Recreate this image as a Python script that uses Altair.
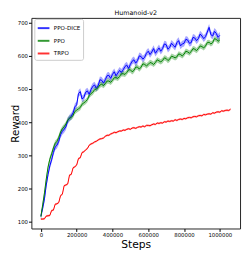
import altair as alt
import pandas as pd

series_names = ["PPO-DICE", "PPO", "TRPO"]
series_colors = ["#0000ff", "#008000", "#ff0000"]

ppo_dice = [116, 140, 168, 210, 242, 268, 286, 308, 325, 330, 342, 362, 372, 378, 386,
            404, 412, 418, 428, 446, 452, 486, 492, 470, 474, 490, 494, 484, 498, 508,
            512, 502, 510, 528, 526, 518, 528, 540, 541, 532, 544, 552, 540, 548, 556,
            550, 558, 568, 572, 562, 574, 584, 588, 578, 586, 600, 598, 590, 596, 608,
            614, 604, 612, 622, 608, 616, 624, 614, 622, 636, 634, 620, 626, 638, 632,
            626, 640, 646, 630, 636, 638, 650, 648, 638, 640, 656, 654, 646, 652, 666,
            660, 652, 658, 672, 686, 664, 660, 674, 668, 656, 662]
ppo = [114, 150, 186, 228, 264, 288, 304, 322, 336, 342, 354, 370, 380, 386, 394,
       406, 412, 414, 420, 432, 436, 440, 444, 454, 458, 462, 468, 480, 486, 490,
       498, 500, 504, 512, 514, 510, 516, 524, 524, 520, 526, 534, 534, 532, 538,
       546, 546, 544, 550, 558, 558, 552, 556, 566, 566, 560, 566, 576, 574, 570,
       574, 580, 578, 574, 580, 588, 585, 582, 586, 594, 592, 586, 590, 599, 597,
       594, 597, 606, 604, 600, 605, 614, 612, 608, 613, 622, 620, 616, 622, 630,
       628, 624, 630, 640, 641, 636, 640, 652, 650, 644, 648]
trpo = [107, 107, 108, 116, 117, 118, 133, 134, 152, 153, 157, 178, 182, 208, 210,
        213, 240, 242, 262, 265, 270, 290, 292, 308, 310, 316, 320, 330, 334, 336,
        340, 342, 346, 349, 350, 352, 357, 360, 360, 364, 366, 369, 368, 371, 373,
        373, 376, 375, 378, 380, 378, 382, 383, 381, 384, 386, 385, 388, 386, 390,
        390, 389, 392, 394, 393, 397, 396, 398, 397, 401, 400, 403, 402, 404, 403,
        407, 405, 408, 409, 408, 411, 410, 413, 414, 413, 416, 417, 416, 419, 420,
        419, 423, 422, 424, 425, 424, 428, 427, 430, 431, 430, 434, 433, 435, 436,
        435, 439]
spreads = [10, 8, 3]
step_size = 10000

x_ticks = [0, 200000, 400000, 600000, 800000, 1000000]
y_ticks = [100, 200, 300, 400, 500, 600, 700]

rows = []
for name, vals, sp in zip(series_names, [ppo_dice, ppo, trpo], spreads):
    for i, v in enumerate(vals):
        rows.append({"series": name, "step": i * step_size, "reward": v,
                     "lo": v - sp, "hi": v + sp})
df = pd.DataFrame(rows)

FONT = "DejaVu Sans"
xscale = alt.Scale(domain=[-53000, 1113000], nice=False, zero=False)
yscale = alt.Scale(domain=[78.5, 714.7], nice=False, zero=False)
cscale = alt.Scale(domain=series_names, range=series_colors)

xaxis = alt.Axis(values=x_ticks, format="d", grid=False, domain=False, tickSize=3,
                 tickColor="black", labelColor="black", labelFontSize=5.5,
                 labelPadding=1, labelOverlap=False, title="Steps", titleFontSize=11,
                 titleFontWeight="normal", titleColor="black", titlePadding=0.5,
                 labelFont=FONT, titleFont=FONT)
yaxis = alt.Axis(values=y_ticks, format="d", grid=False, domain=False, tickSize=3,
                 tickColor="black", labelColor="black", labelFontSize=5.5,
                 labelPadding=1, labelOverlap=False, labelSeparation=0,
                 title="Reward", titleFontSize=10.5,
                 titleFontWeight="normal", titleColor="black", titlePadding=0,
                 titleX=-13.5, titleBaseline="alphabetic",
                 labelFont=FONT, titleFont=FONT)

base = alt.Chart(df)
band = base.mark_area(opacity=0.35).encode(
    x=alt.X("step:Q", scale=xscale, axis=xaxis),
    y=alt.Y("lo:Q", scale=yscale, axis=yaxis),
    y2="hi:Q",
    color=alt.Color("series:N", scale=cscale, legend=None),
    detail="series:N",
)
line = base.mark_line(strokeWidth=1.0).encode(
    x=alt.X("step:Q", scale=xscale, axis=xaxis),
    y=alt.Y("reward:Q", scale=yscale, axis=yaxis),
    color=alt.Color("series:N", scale=cscale, sort=series_names,
                    legend=alt.Legend(title=None, orient="none", legendX=3, legendY=1,
                                      symbolType="stroke", symbolSize=144,
                                      symbolStrokeWidth=2, symbolOpacity=0.8,
                                      labelFontSize=5.7, labelFont=FONT,
                                      labelColor="black", labelOffset=3.5,
                                      padding=2.5, rowPadding=2,
                                      strokeColor="#cccccc", fillColor="white",
                                      cornerRadius=2)),
)

chart = (band + line).resolve_legend(color="independent").properties(
    width=214, height=216,
    title=alt.TitleParams("Humanoid-v2", fontSize=6.5, fontWeight="normal",
                          font=FONT, color="black", offset=1),
    autosize=alt.AutoSizeParams(type="none"),
    padding={"left": 24, "top": 7, "right": 2, "bottom": 23},
).configure_view(stroke="#222222", strokeWidth=1)

chart.save("out.html", embed_options={"renderer": "svg", "actions": False})
